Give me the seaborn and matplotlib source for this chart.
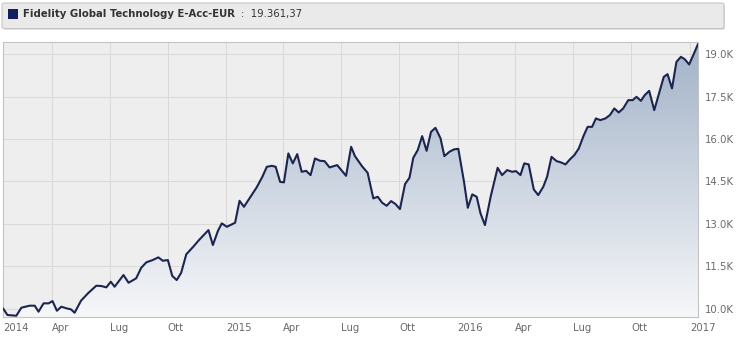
import numpy as np
import pandas as pd
import matplotlib
matplotlib.use("Agg")
import matplotlib.pyplot as plt
import matplotlib.dates as mdates
from matplotlib.colors import LinearSegmentedColormap
from matplotlib.patches import FancyBboxPatch, Rectangle
import seaborn as sns

# ---------------- data ----------------
series_name = "Fidelity Global Technology E-Acc-EUR"
last_value_label = "19.361,37"
start_date = "2014-01-01"
day_offsets = [13, 20, 34, 42, 55, 63, 69, 77, 85, 91, 98, 105, 113, 120, 126, 136,
               147, 160, 168, 176, 183, 189, 203, 211, 223, 231, 239, 249, 258, 265,
               273, 280, 287, 294, 302, 313, 322, 337, 344, 352, 358, 366, 379, 386,
               393, 405, 413, 422, 429, 437, 443, 450, 456, 463, 470, 477, 484, 491,
               498, 505, 513, 520, 528, 540, 554, 562, 568, 579, 588, 597, 604, 611,
               618, 625, 632, 639, 647, 654, 660, 667, 674, 681, 688, 695, 703, 709,
               717, 724, 731, 740, 746, 753, 760, 766, 773, 782, 793, 800, 808, 816,
               822, 829, 835, 842, 850, 857, 865, 871, 878, 886, 893, 900, 907, 914,
               921, 929, 935, 942, 948, 955, 963, 970, 977, 984, 991, 999, 1006, 1012,
               1019, 1025, 1032, 1040, 1046, 1055, 1061, 1068, 1075, 1082, 1088, 1095,
               1102, 1109]
values = [10007, 9770, 9745, 10030, 10100, 10100, 9887, 10183, 10183, 10265, 9922,
          10064, 10007, 9972, 9851, 10276, 10538, 10807, 10796, 10750, 10948, 10771,
          11185, 10913, 11068, 11443, 11635, 11716, 11811, 11691, 11716, 11150, 11008,
          11267, 11918, 12186, 12423, 12777, 12247, 12753, 13014, 12894, 13036, 13814,
          13602, 14016, 14288, 14663, 15017, 15052, 15017, 14486, 14465, 15491, 15137,
          15466, 14840, 14875, 14723, 15314, 15229, 15219, 14996, 15077, 14698, 15725,
          15396, 15042, 14805, 13899, 13956, 13743, 13637, 13803, 13697, 13520, 14405,
          14628, 15335, 15608, 16103, 15583, 16255, 16397, 16022, 15396, 15548, 15632,
          15654, 14486, 13566, 14040, 13956, 13368, 12954, 13956, 14982, 14723, 14900,
          14840, 14865, 14723, 15137, 15102, 14217, 14016, 14309, 14663, 15370, 15219,
          15172, 15102, 15279, 15431, 15667, 16138, 16432, 16432, 16729, 16669, 16729,
          16846, 17083, 16941, 17083, 17377, 17377, 17494, 17352, 17554, 17706, 17023,
          17494, 18201, 18297, 17790, 18732, 18909, 18828, 18640, 18994, 19361]
y_ticks = [10000, 11500, 13000, 14500, 16000, 17500, 19000]
y_tick_labels = ["10.0K", "11.5K", "13.0K", "14.5K", "16.0K", "17.5K", "19.0K"]
x_tick_dates = ["2014-04-01", "2014-07-01", "2014-10-01", "2015-01-01", "2015-04-01",
                "2015-07-01", "2015-10-01", "2016-01-01", "2016-04-01", "2016-07-01",
                "2016-10-01", "2017-01-01"]
x_tick_labels = ["Apr", "Lug", "Ott", "2015", "Apr", "Lug", "Ott", "2016", "Apr",
                 "Lug", "Ott", "2017"]
first_tick_label = "2014"

# ---------------- figure ----------------
sns.set_style("white")
plt.rcParams["font.family"] = ["DejaVu Sans"]

W, H = 753, 343
fig = plt.figure(figsize=(W / 100, H / 100), dpi=100)
fig.patch.set_facecolor("white")

left, right, top, bottom = 3, 698, 42, 317
ax = fig.add_axes([left / W, 1 - bottom / H, (right - left) / W, (bottom - top) / H])
ax.set_facecolor("#eeeeee")

df = pd.DataFrame({
    "date": pd.to_datetime(start_date) + pd.to_timedelta(day_offsets, unit="D"),
    "value": values,
})

ymin, ymax = 9700, 19435
xnum = mdates.date2num(df["date"])

# gradient area fill
poly = ax.fill_between(xnum, df["value"], ymin, color="none", lw=0)
path = poly.get_paths()[0]
cmap = LinearSegmentedColormap.from_list("g", ["#f6f7f9", "#a2b2c8"])
grad = np.linspace(0, 1, 256).reshape(-1, 1)
im = ax.imshow(grad, extent=[xnum[0], xnum[-1], ymin, ymax], origin="lower",
               aspect="auto", cmap=cmap, zorder=1, interpolation="bicubic")
im.set_clip_path(path, transform=ax.transData)

sns.lineplot(data=df, x="date", y="value", ax=ax, color="#1c2550", linewidth=1.5,
             zorder=3, legend=False)

ax.set_xlim(xnum[0], xnum[-1])
ax.set_ylim(ymin, ymax)

# grid
ax.set_yticks(y_ticks)
ax.set_yticklabels(y_tick_labels)
xt = [xnum[0]] + list(mdates.date2num(pd.to_datetime(x_tick_dates)))
ax.set_xticks(xt)
ax.set_xticklabels([first_tick_label] + x_tick_labels)
ax.grid(True, color="#d9d9d9", linewidth=0.7, zorder=0)
ax.set_axisbelow(True)

ax.yaxis.tick_right()
ax.tick_params(axis="y", length=0, pad=5, labelsize=7.3, labelcolor="#6a6a6a")
ax.tick_params(axis="x", length=0, pad=4, labelsize=7.3, labelcolor="#6a6a6a")
for lab in ax.get_xticklabels():
    lab.set_horizontalalignment("left")
ax.set_xlabel("")
ax.set_ylabel("")
for s in ax.spines.values():
    s.set_color("#c4c4c4")
    s.set_linewidth(0.8)

# header box
def px(x, y):
    return x / W, 1 - y / H

shadow = FancyBboxPatch(px(3, 29.8), (724 - 2) / W, 25.5 / H,
                        boxstyle="round,pad=0,rounding_size=0.004",
                        transform=fig.transFigure, facecolor="#dcdcdc",
                        edgecolor="none")
fig.patches.append(shadow)
hb = FancyBboxPatch(px(2, 28.5), (724 - 2) / W, 25.5 / H,
                    boxstyle="round,pad=0,rounding_size=0.004",
                    transform=fig.transFigure, facecolor="#eaeaea",
                    edgecolor="#c6c6c6", linewidth=0.8)
fig.patches.append(hb)
sq = Rectangle(px(8.3, 18.5), 9.2 / W, 9.2 / H, transform=fig.transFigure,
               facecolor="#14205e", edgecolor="none")
fig.patches.append(sq)
t1 = fig.text(*px(23, 14), series_name, fontsize=7.3, fontweight="bold",
              color="#333333", va="center", ha="left")
fig.canvas.draw()
bb = t1.get_window_extent()
fig.text(bb.x1 / W + 6 / W, 1 - 14 / H, ":  " + last_value_label, fontsize=7.3,
         color="#333333", va="center", ha="left")

fig.savefig("out.png", dpi=100)
